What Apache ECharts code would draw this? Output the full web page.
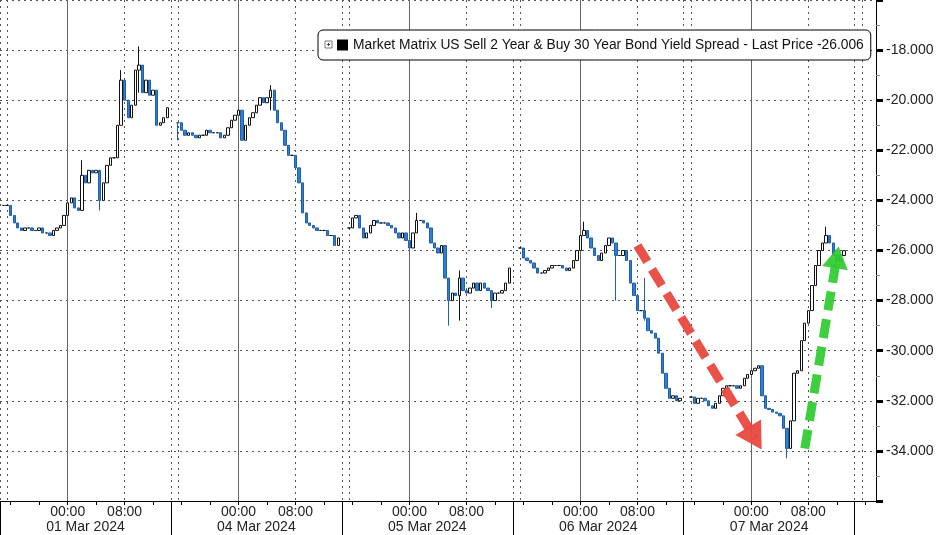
<!DOCTYPE html>
<html>
<head>
<meta charset="utf-8">
<script src="https://cdn.jsdelivr.net/npm/echarts@6/dist/echarts.min.js"></script>
<style>
html,body{margin:0;padding:0;background:#fff;}
#chart{width:937px;height:535px;}
</style>
</head>
<body>
<div id="chart"></div>
<script>
// ---- data ----
const seriesName = 'Market Matrix US Sell 2 Year & Buy 30 Year Bond Yield Spread - Last Price -26.006';
const dayLabels = ['01 Mar 2024', '04 Mar 2024', '05 Mar 2024', '06 Mar 2024', '07 Mar 2024'];
const timeLabels = ['00:00', '08:00'];
const yTicks = [-34, -32, -30, -28, -26, -24, -22, -20, -18];
const lastPrice = -26.006;

// 30-minute slots; each session block = 48 slots, first slot = 14:30 (prior day)
const sessionStart = [1, 50, 98, 146, 194];
const closesMar01 = [-24.2,-24.2,-24.6,-24.9,-25.1,-25.2,-25.1,-25.1,-25.2,-25.2,-25.1,-25.3,-25.3,-25.4,-25.2,-25.1,-25.0,-24.6,-24.1,-23.9,-24.3,-24.4,-23.0,-23.3,-22.8,-22.9,-22.8,-24.0,-23.3,-22.6,-22.3,-22.3,-21.0,-19.2,-20.0,-20.7,-20.2,-18.8,-18.6,-19.7,-19.2,-19.8,-19.6,-21.0,-20.9,-20.7,-20.3];
const closesMar04 = [-20.9,-21.2,-21.4,-21.3,-21.4,-21.5,-21.4,-21.4,-21.2,-21.3,-21.3,-21.3,-21.5,-21.4,-21.1,-20.8,-20.6,-20.4,-21.6,-21.0,-20.7,-20.5,-20.2,-19.9,-20.1,-19.9,-19.6,-20.4,-20.9,-21.2,-21.8,-22.2,-22.2,-22.7,-23.3,-24.5,-24.9,-25.0,-25.1,-25.2,-25.2,-25.2,-25.4,-25.4,-25.8,-25.5];
const closesMar05 = [-25.1,-24.7,-24.6,-25.1,-25.5,-25.3,-25.0,-24.8,-24.9,-24.9,-24.9,-25.0,-25.1,-25.3,-25.5,-25.3,-25.6,-25.9,-25.3,-24.8,-24.8,-24.9,-25.1,-25.7,-25.9,-26.1,-25.8,-27.1,-28.0,-27.7,-27.8,-27.1,-27.6,-27.7,-27.5,-27.3,-27.6,-27.3,-27.5,-27.6,-28.0,-27.7,-27.7,-27.6,-27.3,-26.7];
const closesMar06 = [-25.9,-26.3,-26.4,-26.5,-26.7,-26.9,-26.9,-26.8,-26.7,-26.6,-26.6,-26.6,-26.7,-26.8,-26.7,-26.4,-26.0,-25.4,-25.2,-25.5,-25.9,-26.2,-26.4,-26.1,-25.8,-25.5,-25.7,-26.2,-26.2,-26.0,-26.4,-27.3,-27.8,-28.4,-28.4,-28.7,-29.2,-29.3,-29.5,-30.1,-30.9,-31.5,-31.9,-31.8,-32.0,-31.9];
const closesMar07 = [-31.85,-32.1,-31.9,-31.9,-32.0,-32.2,-32.3,-32.1,-31.8,-31.5,-31.4,-31.4,-31.4,-31.5,-31.4,-31.1,-30.95,-30.8,-30.7,-30.6,-31.8,-32.3,-32.35,-32.45,-32.5,-32.6,-33.1,-33.9,-32.8,-30.9,-30.8,-29.6,-28.9,-28.4,-27.4,-26.6,-26.0,-25.7,-25.4,-25.7,-26.2,-26.45,-26.2,-26.006];
// visible wicks: [slot, low, high]
const wicks = [[23,-24.4,-22.4],[28,-24.4,-22.8],[34,-21.0,-18.8],[39,-19.7,-17.85],[50,-21.6,-20.9],[76,-20.4,-19.4],[117,-25.3,-24.5],[126,-29.0,-27.1],[129,-28.8,-26.8],[138,-28.3,-27.6],[164,-25.4,-24.85],[173,-28.0,-25.7],[181,-28.8,-27.1],[221,-34.3,-33.1],[232,-25.7,-25.05]];
// annotation arrows: [slotFrom, valueFrom, slotTo, valueTo]
const redArrow = [179, -25.8, 212.1, -33.5];
const greenArrow = [225.5, -33.9, 234.5, -26.27];

// ---- build ----
const SLOTS_PER_DAY = 48;
const TOTAL_SLOTS = 247;
const allCloses = [closesMar01, closesMar04, closesMar05, closesMar06, closesMar07];

function slotHour(i) {
  const j = i % SLOTS_PER_DAY;
  let h = 14.5 + j * 0.5;
  if (h >= 24) h -= 24;
  return h;
}
function fmtHour(h) {
  const hh = Math.floor(h), mm = Math.round((h - hh) * 60);
  return String(hh).padStart(2, '0') + ':' + String(mm).padStart(2, '0');
}
const categories = [];
for (let i = 0; i < TOTAL_SLOTS; i++) {
  categories.push(Math.floor(i / SLOTS_PER_DAY) + '|' + fmtHour(slotHour(i)));
}

const wickMap = {};
wicks.forEach(w => { wickMap[w[0]] = [w[1], w[2]]; });
const candles = [];
allCloses.forEach((arr, d) => {
  let prev = arr[0];
  arr.forEach((c, k) => {
    const slot = sessionStart[d] + k;
    const o = prev;
    let lo = Math.min(o, c), hi = Math.max(o, c);
    if (wickMap[slot]) { lo = Math.min(lo, wickMap[slot][0]); hi = Math.max(hi, wickMap[slot][1]); }
    candles.push([slot, o, c, lo, hi]);
    prev = c;
  });
});

const jOf = i => i % SLOTS_PER_DAY;
const font = '"Liberation Sans", Arial, sans-serif';

const chart = echarts.init(document.getElementById('chart'), null, {renderer: 'canvas'});
const option = {
  animation: false,
  backgroundColor: '#fff',
  textStyle: {fontFamily: font},
  grid: {left: 0, right: 61, top: -9, bottom: 34},
  legend: {
    left: 318, top: 30, z: 10,
    data: [{name: seriesName, icon: 'rect', itemStyle: {color: '#000', borderWidth: 0}}],
    itemWidth: 11, itemHeight: 11,
    selectedMode: false,
    padding: [8, 7, 8, 19],
    borderColor: '#000', borderWidth: 1, borderRadius: 5,
    backgroundColor: '#fff',
    textStyle: {fontSize: 13.8, color: '#111', fontFamily: font}
  },
  graphic: [
    {type: 'rect', x: 325, y: 41, z: 100, zlevel: 0, shape: {x: 0, y: 0, width: 7, height: 7}, style: {fill: '#fff', stroke: '#777', lineWidth: 1}},
    {type: 'line', x: 325, y: 41, z: 101, shape: {x1: 2, y1: 3.5, x2: 5, y2: 3.5}, style: {stroke: '#444', lineWidth: 1}},
    {type: 'line', x: 325, y: 41, z: 101, shape: {x1: 3.5, y1: 2, x2: 3.5, y2: 5}, style: {stroke: '#444', lineWidth: 1}}
  ],
  xAxis: [
    {
      type: 'category', data: categories, boundaryGap: false, position: 'bottom',
      axisLine: {show: true, lineStyle: {color: '#000', width: 1}},
      axisTick: {show: true, length: 4, interval: i => [3, 11, 19, 27, 35, 43].includes(jOf(i)), lineStyle: {color: '#000'}},
      axisLabel: {
        show: true, margin: 4, fontSize: 14, color: '#222', fontFamily: font,
        interval: i => jOf(i) === 19 || jOf(i) === 35,
        formatter: v => { const t = v.split('|')[1]; return timeLabels.includes(t) ? t : ''; }
      },
      splitLine: {show: true, interval: i => [0, 2, 35].includes(jOf(i)), lineStyle: {color: '#555', type: [2, 4], width: 1}}
    },
    {
      type: 'category', data: categories, boundaryGap: false, position: 'bottom',
      axisLine: {show: false}, axisTick: {show: false},
      axisLabel: {
        show: true, margin: 19, fontSize: 14, color: '#222', fontFamily: font,
        interval: i => jOf(i) === 24,
        formatter: v => dayLabels[+v.split('|')[0]] || ''
      },
      splitLine: {show: true, interval: i => jOf(i) === 19, lineStyle: {color: '#666', width: 1, type: 'solid'}}
    },
    {
      type: 'category', data: categories, boundaryGap: false, position: 'bottom',
      axisLine: {show: false},
      axisTick: {show: true, length: 34, interval: i => jOf(i) === 0, lineStyle: {color: '#000'}},
      axisLabel: {show: false},
      splitLine: {show: false}
    }
  ],
  yAxis: {
    type: 'value', position: 'right', min: -36, max: -16, interval: 2,
    axisLine: {show: true, lineStyle: {color: '#000'}},
    axisTick: {show: true, length: 7, lineStyle: {color: '#000', width: 3}},
    minorTick: {show: true, splitNumber: 2, length: 4, lineStyle: {color: '#888'}},
    axisLabel: {
      margin: 10, fontSize: 14, color: '#222', fontFamily: font,
      showMinLabel: false, showMaxLabel: false,
      formatter: v => yTicks.includes(v) ? v.toFixed(3) : ''
    },
    splitLine: {show: true, lineStyle: {color: '#555', type: [2, 4], width: 1}}
  },
  series: [{
    name: seriesName,
    type: 'candlestick',
    xAxisIndex: 0,
    clip: false,
    data: candles,
    encode: {x: 0, y: [1, 2, 3, 4]},
    barWidth: '80%',
    itemStyle: {color: '#ffffff', borderColor: '#111111', color0: '#2f7fd8', borderColor0: '#1f5ea8', borderWidth: 1},
    markLine: {
      silent: true,
      animation: false,
      symbol: ['none', 'none'],
      data: [
        [
          {coord: [redArrow[0], redArrow[1]], symbol: 'none',
           lineStyle: {color: '#e8483f', width: 9, type: [19, 9], cap: 'butt', opacity: 0.95}, label: {show: false}},
          {coord: [redArrow[2], redArrow[3]], symbol: 'triangle', symbolSize: [30, 26]}
        ],
        [
          {coord: [greenArrow[0], greenArrow[1]], symbol: 'none',
           lineStyle: {color: '#33cc33', width: 9, type: [19, 9], cap: 'butt', opacity: 0.95}, label: {show: false}},
          {coord: [greenArrow[2], greenArrow[3]], symbol: 'triangle', symbolSize: [26, 22]}
        ],
        {
          yAxis: lastPrice, symbol: 'none',
          lineStyle: {opacity: 0},
          label: {show: true, position: 'end', distance: 4, formatter: lastPrice.toFixed(3),
                  backgroundColor: '#000', color: '#fff', fontSize: 14, fontFamily: font, padding: [3, 3, 2, 5]}
        }
      ]
    }
  }]
};
chart.setOption(option);
</script>
</body>
</html>
